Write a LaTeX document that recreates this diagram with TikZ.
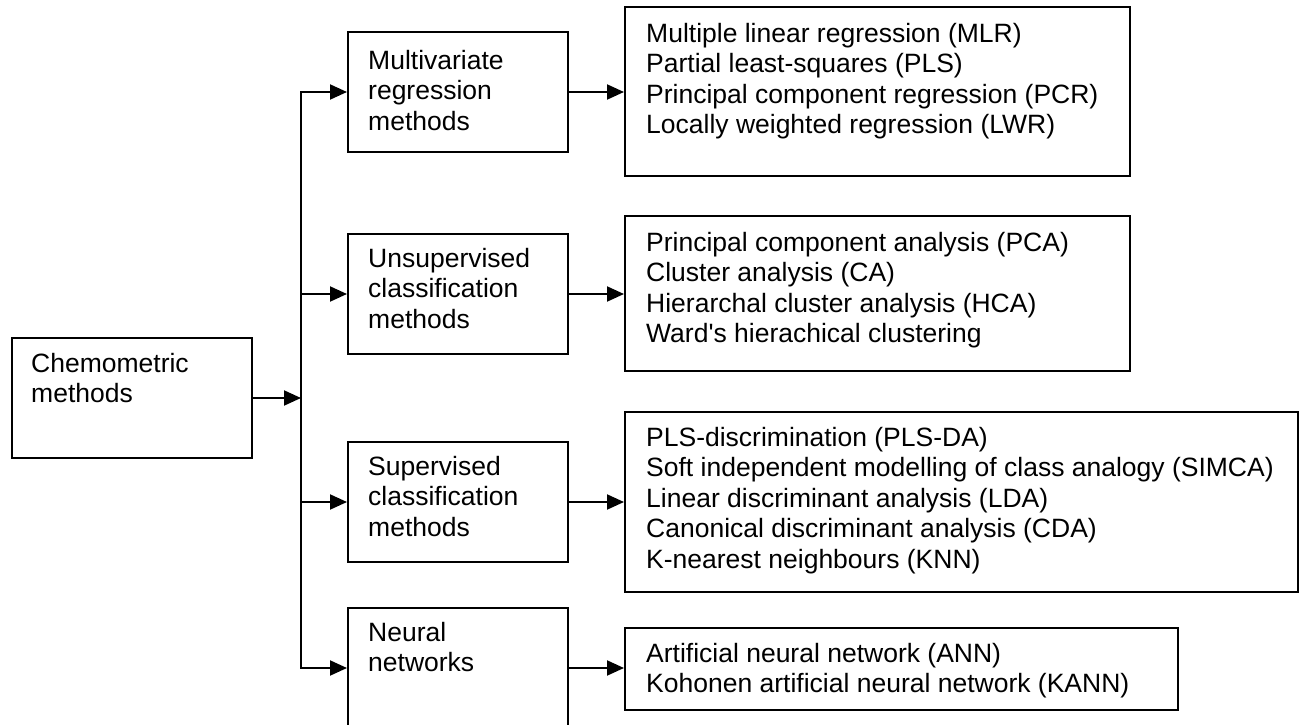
\documentclass[tikz,border=0pt]{standalone}
\usepackage{fontspec}
\newfontfamily\arialfont{Liberation Sans}
\usetikzlibrary{arrows.meta}
\newcommand{\fsz}{\arialfont\fontsize{26.5}{30.5}\selectfont}
\begin{document}
\begin{tikzpicture}[x=1pt,y=-1pt,
  box/.style={draw, line width=2pt, inner sep=0pt},
  txt/.style={anchor=north west, inner sep=0pt, align=left, font=\fsz},
  arr/.style={line width=2pt, -{Triangle[length=17pt,width=15pt]}},
  arr2/.style={line width=2pt, {Triangle[length=17pt,width=15pt]}-{Triangle[length=17pt,width=15pt]}}]
\useasboundingbox (0,0) rectangle (1299,725);
\fill[white] (0,0) rectangle (1299,725);
% boxes
\node[box, minimum width=240pt, minimum height=120pt] (chem) at (132,398) {};
\node[box, minimum width=220pt, minimum height=120pt] (mvr) at (458,92) {};
\node[box, minimum width=220pt, minimum height=120pt] (uns) at (458,294) {};
\node[box, minimum width=220pt, minimum height=120pt] (sup) at (458,502) {};
\node[box, minimum width=220pt, minimum height=120pt] (nn) at (458,668) {};
\node[box, minimum width=505pt, minimum height=169pt] (r1) at (877.5,91.5) {};
\node[box, minimum width=505pt, minimum height=155pt] (r2) at (877.5,293.5) {};
\node[box, minimum width=673pt, minimum height=180pt] (r3) at (961.5,502) {};
\node[box, minimum width=553pt, minimum height=82pt] (r4) at (901.5,669) {};
% texts
\node[txt] (tchem) at ([shift={(20,13.65)}]chem.north west) {\strut Chemometric\\\strut methods};
\node[txt] (tmvr) at ([shift={(21,16.65)}]mvr.north west) {\strut Multivariate\\\strut regression\\\strut methods};
\node[txt] (tuns) at ([shift={(21,12.65)}]uns.north west) {\strut Unsupervised\\\strut classification\\\strut methods};
\node[txt] (tsup) at ([shift={(21,12.65)}]sup.north west) {\strut Supervised\\\strut classification\\\strut methods};
\node[txt] (tnn) at ([shift={(21,12.65)}]nn.north west) {\strut Neural\\\strut networks};
\node[txt] (tr1) at ([shift={(22,14.65)}]r1.north west) {\strut Multiple linear regression (MLR)\\\strut Partial least-squares (PLS)\\\strut Principal component regression (PCR)\\\strut Locally weighted regression (LWR)};
\node[txt] (tr2) at ([shift={(22,14.65)}]r2.north west) {\strut Principal component analysis (PCA)\\\strut Cluster analysis (CA)\\\strut Hierarchal cluster analysis (HCA)\\\strut Ward's hierachical clustering};
\node[txt] (tr3) at ([shift={(22,13.65)}]r3.north west) {\strut PLS-discrimination (PLS-DA)\\\strut Soft independent modelling of class analogy (SIMCA)\\\strut Linear discriminant analysis (LDA)\\\strut Canonical discriminant analysis (CDA)\\\strut K-nearest neighbours (KNN)};
\node[txt] (tr4) at ([shift={(22,13.65)}]r4.north west) {\strut Artificial neural network (ANN)\\\strut Kohonen artificial neural network (KANN)};
% connectors
\coordinate (tr) at (301,0);
\draw[arr] (chem.east) -- (chem.east -| tr);
\draw[arr2] (mvr.west) -| (tr |- nn.west) -- (nn.west);
\draw[arr] (tr |- uns.west) -- (uns.west);
\draw[arr] (tr |- sup.west) -- (sup.west);
\draw[arr] (mvr.east) -- (r1.west |- mvr.east);
\draw[arr] (uns.east) -- (r2.west |- uns.east);
\draw[arr] (sup.east) -- (r3.west |- sup.east);
\draw[arr] (nn.east) -- (r4.west |- nn.east);
\end{tikzpicture}
\end{document}
